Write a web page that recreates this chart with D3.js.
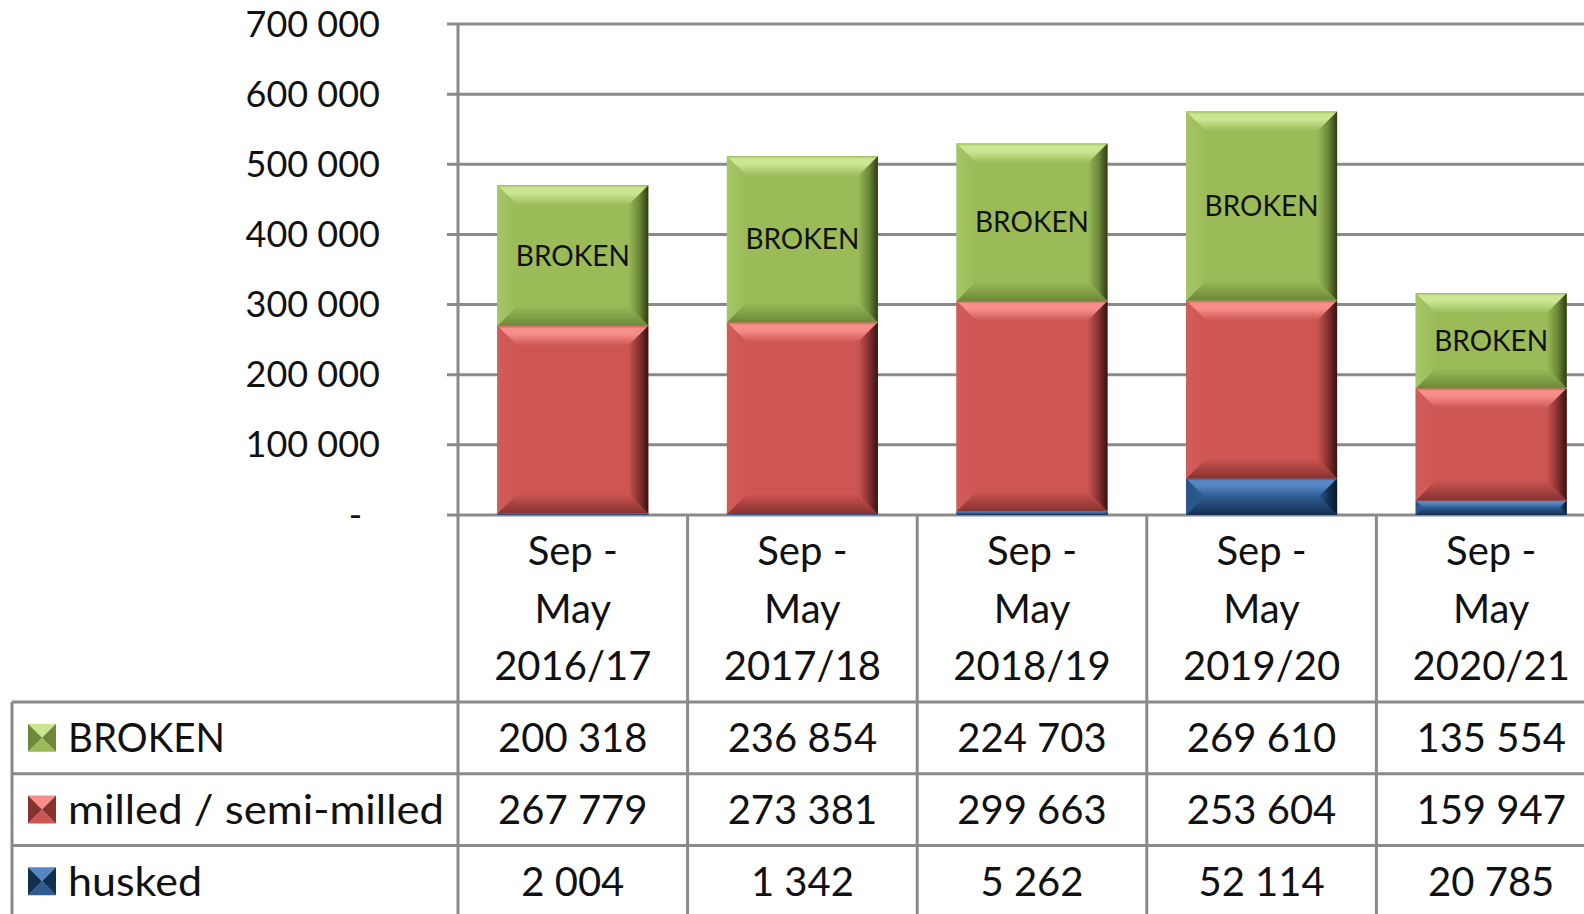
<!DOCTYPE html>
<html>
<head>
<meta charset="utf-8">
<script src="https://cdn.jsdelivr.net/npm/d3@7"></script>
<style>
  html, body { margin: 0; padding: 0; background: #fff; overflow: hidden; }
  svg { display: block; font-family: Lato, "Open Sans", sans-serif; }
</style>
</head>
<body>
<svg id="chart"></svg>
<script>
// data
const categories = ['Sep - May 2016/17', 'Sep - May 2017/18', 'Sep - May 2018/19', 'Sep - May 2019/20', 'Sep - May 2020/21'];
const husked = [2004, 1342, 5262, 52114, 20785];
const milled = [267779, 273381, 299663, 253604, 159947];
const broken = [200318, 236854, 224703, 269610, 135554];
const yTicks = [0, 100000, 200000, 300000, 400000, 500000, 600000, 700000];

// stack order bottom -> top, table order top -> bottom
const series = [
  { key: 'husked', label: 'husked', values: husked },
  { key: 'milled', label: 'milled / semi-milled', values: milled },
  { key: 'broken', label: 'BROKEN', values: broken }
];
const tableRows = [series[2], series[1], series[0]];
// label widths in the table (the original font runs a bit wider)
const labelWidths = { broken: 157, milled: 376, husked: 134 };

const palette = {
  broken: { base: '#9bbb59', light: '#cbe592', left: '#a6c566', bottom: '#6c8838', dark: '#2e3c15' },
  milled: { base: '#cd5552', light: '#f78e8a', left: '#d15d5a', bottom: '#853230', dark: '#361211' },
  husked: { base: '#2e5b90', light: '#5587c4', left: '#2a5488', bottom: '#132f50', dark: '#08162a' }
};

const width = 1584;
const height = 914;
const gridColor = '#8a8a8a';
const fontSize = 40;

const svg = d3.select('#chart')
  .attr('width', width)
  .attr('height', height);

const locale = d3.formatLocale({ decimal: ',', thousands: ' ', grouping: [3], currency: ['', ''] });
const fmt = locale.format(',d');

// scales
const plotLeft = 458;
const step = 229.6;
const x = d3.scaleBand()
  .domain(categories)
  .range([plotLeft, plotLeft + step * categories.length])
  .padding(0);
const barWidth = 151;

const y = d3.scaleLinear()
  .domain([0, 700000])
  .range([515, 24]);

// gradients for bevel
const defs = svg.append('defs');
Object.entries(palette).forEach(([key, c]) => {
  const grads = [
    { id: `top-${key}`, x1: 0, y1: 0, x2: 0, y2: 1, stops: [[0, c.base], [0.12, c.light], [0.4, c.light], [1, c.base]] },
    { id: `bottom-${key}`, x1: 0, y1: 0, x2: 0, y2: 1, stops: [[0, c.base], [1, c.bottom]] },
    { id: `left-${key}`, x1: 0, y1: 0, x2: 1, y2: 0, stops: [[0, c.left], [1, c.base]] },
    { id: `right-${key}`, x1: 0, y1: 0, x2: 1, y2: 0, stops: [[0, c.base], [0.55, c.bottom], [1, c.dark]] }
  ];
  grads.forEach(g => {
    const lg = defs.append('linearGradient')
      .attr('id', g.id)
      .attr('x1', g.x1).attr('y1', g.y1).attr('x2', g.x2).attr('y2', g.y2);
    g.stops.forEach(s => lg.append('stop').attr('offset', s[0]).attr('stop-color', s[1]));
  });
});

// gridlines + tick labels
svg.append('g')
  .selectAll('line')
  .data(yTicks)
  .join('line')
  .attr('x1', 447)
  .attr('x2', width)
  .attr('y1', d => y(d))
  .attr('y2', d => y(d))
  .attr('stroke', gridColor)
  .attr('stroke-width', 3);

svg.append('g')
  .selectAll('text')
  .data(yTicks)
  .join('text')
  .attr('x', d => d === 0 ? 362 : 380)
  .attr('y', d => y(d) + 12.5)
  .attr('text-anchor', 'end')
  .attr('font-size', 36)
  .attr('fill', '#111')
  .text(d => d === 0 ? '-' : fmt(d));

// stacked bars
const stack = d3.stack().keys(series.map(s => s.key));
const rows = categories.map((c, i) => {
  const r = { cat: c };
  series.forEach(s => { r[s.key] = s.values[i]; });
  return r;
});
const stacked = stack(rows);

const bars = svg.append('g');
stacked.forEach(layer => {
  const key = layer.key;
  const c = palette[key];
  layer.forEach(d => {
    const x0 = x(d.data.cat) + (x.bandwidth() - barWidth) / 2;
    const x1 = x0 + barWidth;
    const y0 = y(d[1]);
    const y1 = y(d[0]);
    const h = y1 - y0;
    const b = Math.min(20, h / 2);
    const g = bars.append('g');
    g.append('rect')
      .attr('x', x0).attr('y', y0)
      .attr('width', barWidth).attr('height', h)
      .attr('fill', c.base);
    const poly = (pts, fill) => g.append('polygon')
      .attr('points', pts.map(p => p.join(',')).join(' '))
      .attr('fill', fill);
    poly([[x0, y0], [x1, y0], [x1 - b, y0 + b], [x0 + b, y0 + b]], `url(#top-${key})`);
    poly([[x0, y1], [x1, y1], [x1 - b, y1 - b], [x0 + b, y1 - b]], `url(#bottom-${key})`);
    poly([[x0, y0], [x0 + b, y0 + b], [x0 + b, y1 - b], [x0, y1]], `url(#left-${key})`);
    poly([[x1, y0], [x1 - b, y0 + b], [x1 - b, y1 - b], [x1, y1]], `url(#right-${key})`);
    if (key === 'broken') {
      g.append('text')
        .attr('x', (x0 + x1) / 2)
        .attr('y', (y0 + y1) / 2 + 10)
        .attr('text-anchor', 'middle')
        .attr('font-size', 28)
        .attr('fill', '#111')
        .text('BROKEN');
    }
  });
});

// data table
const headerTop = 515;
const rowTop = 702;
const rowH = 71.7;
const tableLeft = 12;
const lines = svg.append('g')
  .attr('stroke', gridColor)
  .attr('stroke-width', 3);

// vertical axis / first column border
lines.append('line')
  .attr('x1', plotLeft).attr('x2', plotLeft)
  .attr('y1', y(700000)).attr('y2', height);
// column borders
categories.forEach(c => {
  lines.append('line')
    .attr('x1', x(c) + x.bandwidth()).attr('x2', x(c) + x.bandwidth())
    .attr('y1', headerTop).attr('y2', height);
});
// row borders
tableRows.forEach((s, i) => {
  lines.append('line')
    .attr('x1', tableLeft).attr('x2', width)
    .attr('y1', rowTop + i * rowH).attr('y2', rowTop + i * rowH);
});
lines.append('line')
  .attr('x1', tableLeft).attr('x2', tableLeft)
  .attr('y1', rowTop).attr('y2', height);

// category header labels
categories.forEach(c => {
  const parts = c.match(/^(Sep -) (May) (.*)$/).slice(1);
  svg.append('text')
    .attr('x', x(c) + x.bandwidth() / 2)
    .attr('text-anchor', 'middle')
    .attr('font-size', fontSize)
    .attr('fill', '#111')
    .selectAll('tspan')
    .data(parts)
    .join('tspan')
    .attr('x', x(c) + x.bandwidth() / 2)
    .attr('y', (d, i) => 565 + i * 57.5)
    .text(d => d);
});

// table rows: legend key + values
tableRows.forEach((s, i) => {
  const cy = rowTop + i * rowH + rowH / 2;
  const c = palette[s.key];
  const mx = 28, my = cy - 14, ms = 28;
  const key = svg.append('g');
  const tri = (pts, fill) => key.append('polygon')
    .attr('points', pts.map(p => p.join(',')).join(' '))
    .attr('fill', fill);
  const cx = mx + ms / 2, ccy = my + ms / 2;
  tri([[mx, my], [mx + ms, my], [cx, ccy]], c.light);
  tri([[mx, my + ms], [mx + ms, my + ms], [cx, ccy]], c.base);
  tri([[mx, my], [mx, my + ms], [cx, ccy]], c.bottom);
  tri([[mx + ms, my], [mx + ms, my + ms], [cx, ccy]], c.bottom);

  svg.append('text')
    .attr('x', 68)
    .attr('y', cy + 14.5)
    .attr('font-size', fontSize)
    .attr('fill', '#111')
    .attr('textLength', labelWidths[s.key])
    .attr('lengthAdjust', 'spacingAndGlyphs')
    .text(s.label);

  svg.append('g')
    .selectAll('text')
    .data(s.values)
    .join('text')
    .attr('x', (d, j) => x(categories[j]) + x.bandwidth() / 2)
    .attr('y', cy + 14.5)
    .attr('text-anchor', 'middle')
    .attr('font-size', fontSize)
    .attr('fill', '#111')
    .text(d => fmt(d));
});
</script>
</body>
</html>
